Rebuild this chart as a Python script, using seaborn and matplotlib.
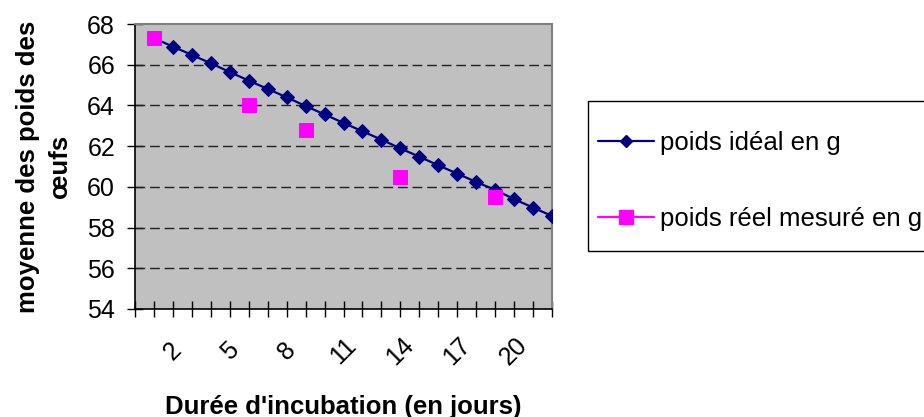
import matplotlib
matplotlib.use("Agg")
import matplotlib.pyplot as plt
from matplotlib.lines import Line2D
from matplotlib.patches import Rectangle
import seaborn as sns
import pandas as pd

# jours d'incubation
jours = list(range(1, 23))
poids_ideal = [67.3, 66.89, 66.48, 66.07, 65.64, 65.22, 64.81, 64.40, 63.97, 63.56, 63.14,
               62.73, 62.32, 61.89, 61.48, 61.06, 60.65, 60.24, 59.85, 59.40, 58.98, 58.57]
jours_mesure = [1, 6, 9, 14, 19]
poids_reel = [67.3, 64.0, 62.8, 60.5, 59.5]
tick_jours = [2, 5, 8, 11, 14, 17, 20]

df_ideal = pd.DataFrame({"jour": jours, "poids": poids_ideal})
df_reel = pd.DataFrame({"jour": jours_mesure, "poids": poids_reel})

sns.set_style("white")
plt.rcParams["font.family"] = ["Liberation Sans", "DejaVu Sans"]
for k in ["text.color", "axes.labelcolor", "xtick.color", "ytick.color"]:
    plt.rcParams[k] = "black"

W, H = 924, 417
fig = plt.figure(figsize=(9.24, 4.17), dpi=100)
ax = fig.add_axes([135/W, 1-309/H, (552-135)/W, (309-24)/H])
ax.set_facecolor("#C0C0C0")

for yv in range(56, 68, 2):
    ax.axhline(yv, color="#202020", lw=1.0, ls=(0, (7, 3.5)), zorder=1)

sns.lineplot(data=df_ideal, x="jour", y="poids", ax=ax, color="#000080", lw=1.6,
             marker="D", markersize=6.8, markeredgecolor="#000080", zorder=3)
sns.lineplot(data=df_reel, x="jour", y="poids", ax=ax, color="#FF00FF", linestyle="",
             marker="s", markersize=10.5, markeredgecolor="#FF00FF", zorder=4)

ax.set_xlim(0, 22)
ax.set_ylim(54, 68)
ax.set_yticks(range(54, 69, 2))
ax.set_xticks(range(0, 23), minor=True)
ax.set_xticks(tick_jours)
ax.set_xticklabels([str(t) for t in tick_jours], rotation=45, ha="center", va="center")
ax.tick_params(axis="x", which="both", direction="inout", length=11, width=1, color="black",
               labelsize=18, pad=25)
ax.tick_params(axis="y", direction="inout", length=11.5, width=1, color="black",
               labelsize=18, pad=8.6)
ax.tick_params(left=True, bottom=True)
ax.tick_params(axis="x", which="minor", bottom=True)

for s in ["top", "right"]:
    ax.spines[s].set_color("#808080")
    ax.spines[s].set_linewidth(1.5)
for s in ["left", "bottom"]:
    ax.spines[s].set_color("black")
    ax.spines[s].set_linewidth(1.2)

ax.set_xlabel("Durée d'incubation (en jours)", fontsize=18.5, fontweight="bold", labelpad=18)
ax.set_ylabel("moyenne des poids des\nœufs", fontsize=18.5, fontweight="bold",
              linespacing=1.4)
ax.yaxis.set_label_coords((72 - 135) / 417, 0.5)

# cadre de la légende (dépasse le bord droit comme dans l'original)
fig.add_artist(Rectangle((588/W, 1-251/H), 360/W, 150/H, transform=fig.transFigure,
                         facecolor="white", edgecolor="black", lw=1.0, zorder=0))

handles = [
    Line2D([], [], color="#000080", lw=1.6, marker="D", markersize=6.3),
    Line2D([], [], color="#FF00FF", lw=1.6, marker="s", markersize=10.5),
]
leg = fig.legend(handles, ["poids idéal en g", "poids réel mesuré en g"],
                 loc="upper left", bbox_to_anchor=(588/W, 1-121/H),
                 fontsize=18.5, frameon=False,
                 handlelength=2.15, handletextpad=0.24, labelspacing=2.0,
                 borderpad=0.4, borderaxespad=0)

fig.savefig("out.png", dpi=100)
